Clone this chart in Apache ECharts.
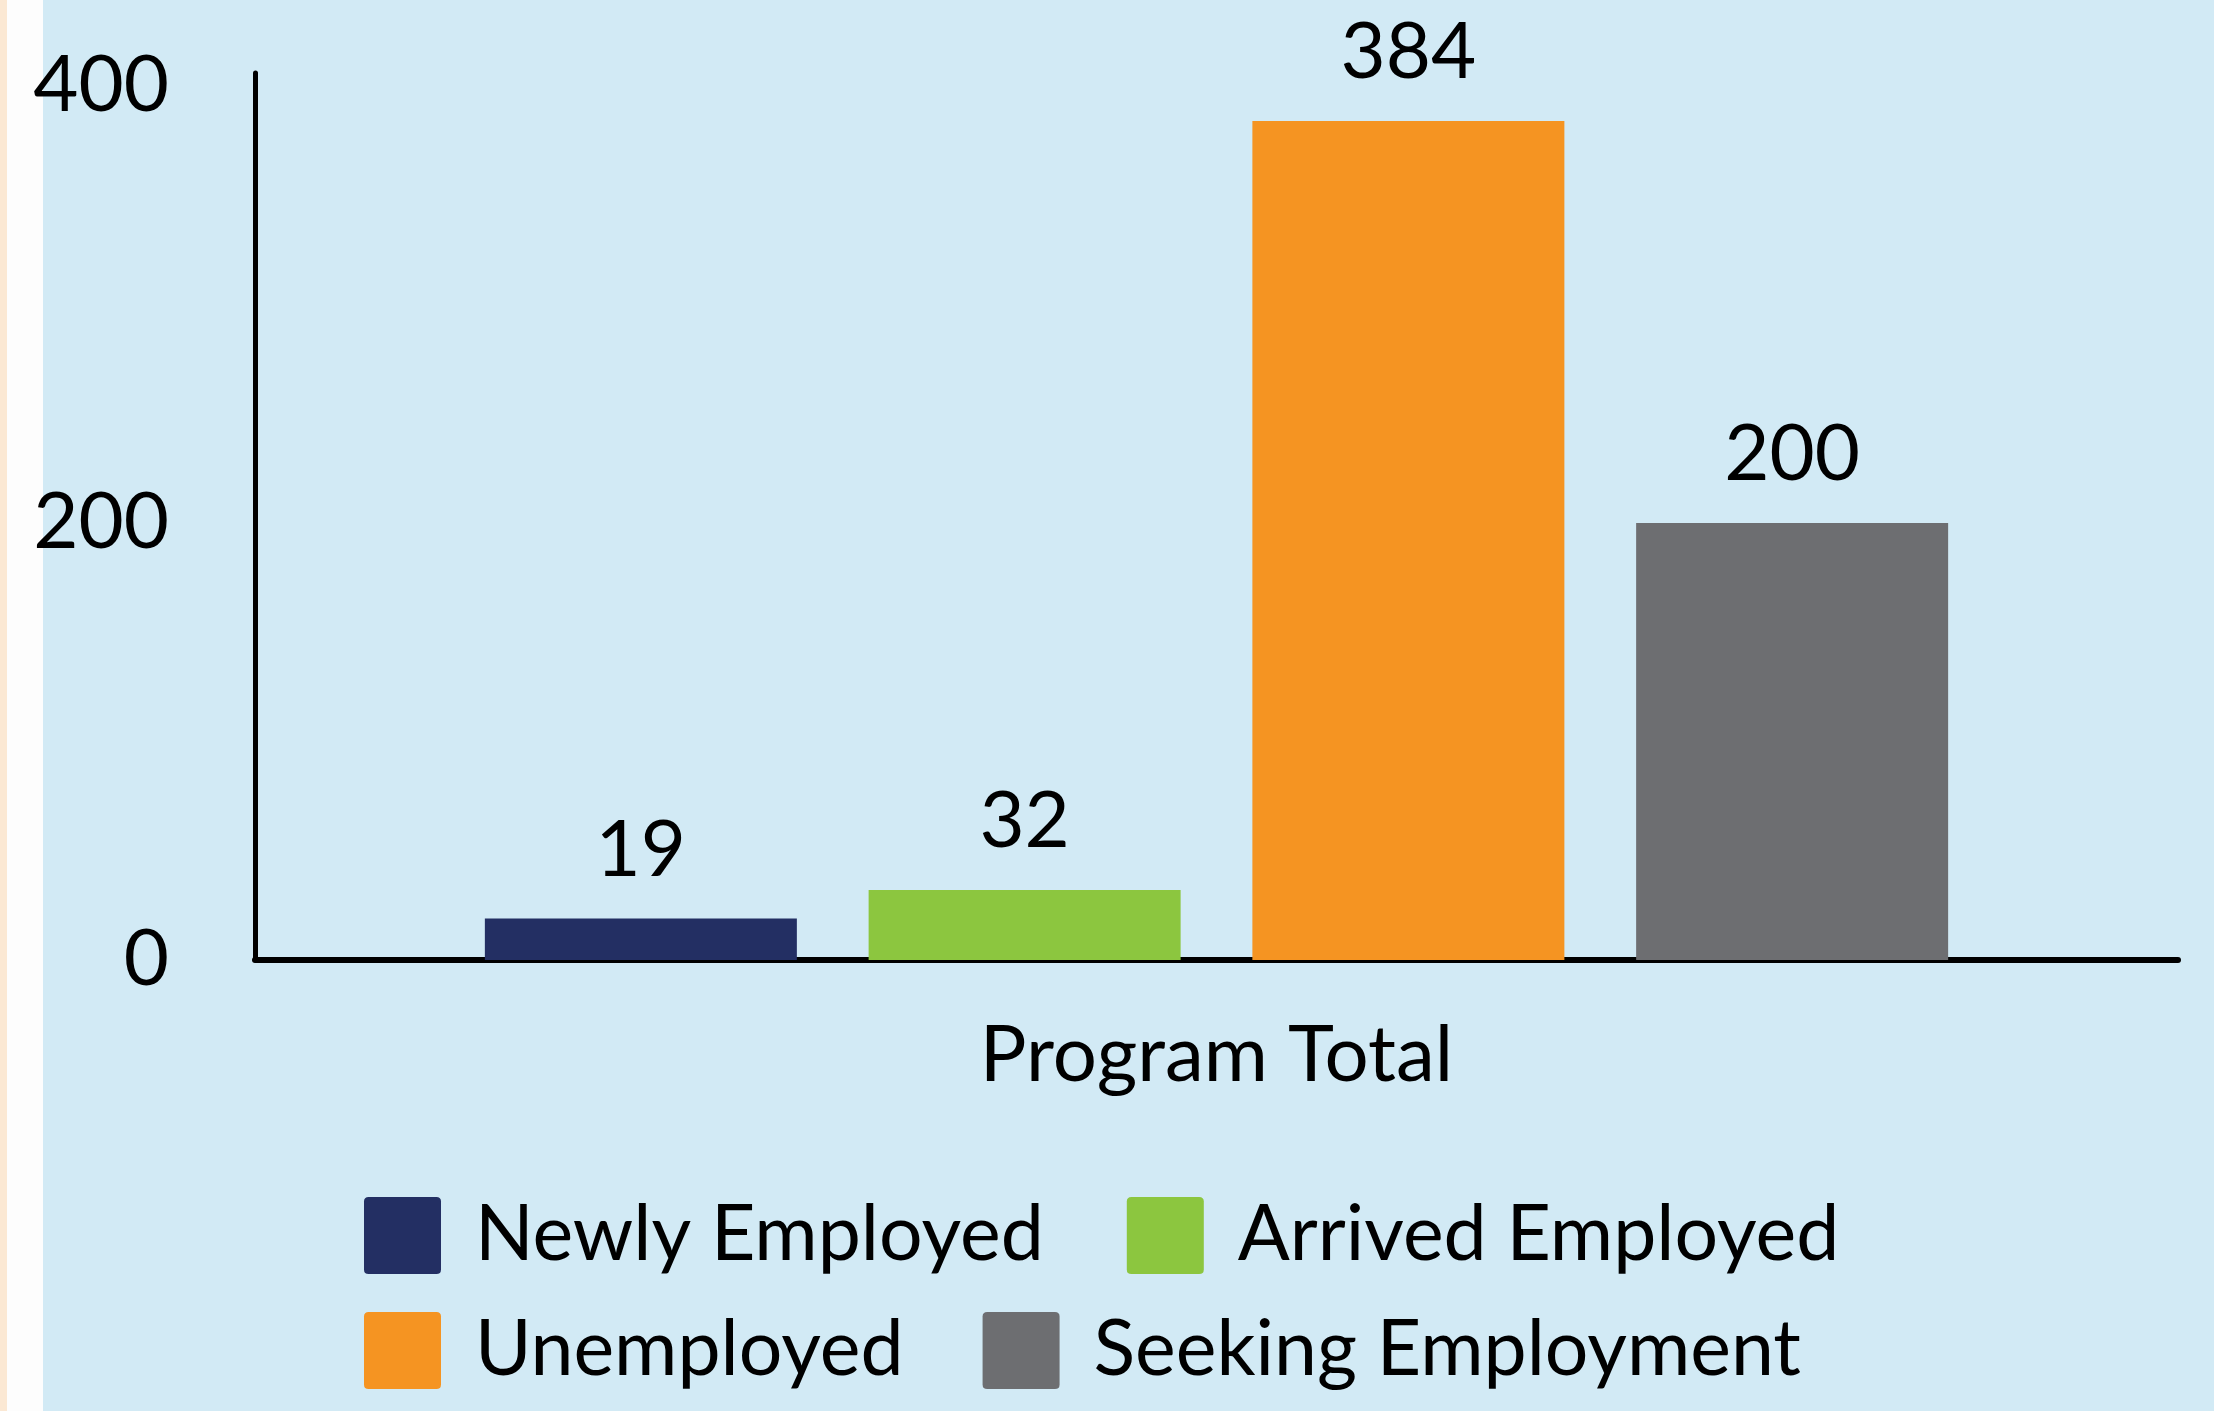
<!DOCTYPE html>
<html lang="en">
<head>
    <meta charset="UTF-8">
    <title>Program Total</title>
    <style>
        html, body { margin: 0; padding: 0; }
        #box { width: 2214px; height: 1411px; }
    </style>
    <script src="https://cdn.jsdelivr.net/npm/echarts@6/dist/echarts.min.js"></script>
</head>
<body>
    <div id="box"></div>
    <script>
        (function () {
            // data
            let categories = ['Program Total'];
            let seriesNames = ['Newly Employed', 'Arrived Employed', 'Unemployed', 'Seeking Employment'];
            let newlyEmployed = [19];
            let arrivedEmployed = [32];
            let unemployed = [384];
            let seekingEmployment = [200];
            let colors = ['#232f63', '#8cc63f', '#f59422', '#6d6e71'];

            let values = [newlyEmployed, arrivedEmployed, unemployed, seekingEmployment];
            let font = 'Lato';
            let iconPath = 'path://M6,0H94Q100,0 100,6V94Q100,100 94,100H6Q0,100 0,94V6Q0,0 6,0Z';

            let series = seriesNames.map(function (name, i) {
                return {
                    name: name,
                    type: 'bar',
                    data: values[i],
                    barWidth: 312,
                    barGap: '23%',
                    itemStyle: { color: colors[i] },
                    label: {
                        show: true,
                        position: 'top',
                        distance: 29,
                        color: '#000',
                        fontFamily: font,
                        fontSize: 78
                    }
                };
            });

            let legendCommon = {
                left: 359,
                itemWidth: 77,
                itemHeight: 77,
                icon: iconPath,
                textStyle: {
                    color: '#000',
                    fontFamily: font,
                    fontSize: 77,
                    padding: [10, 0, 0, 29]
                }
            };

            let option = {
                backgroundColor: '#d2eaf5',
                animation: false,
                grid: { left: 255, right: 36, top: 73, bottom: 451 },
                xAxis: {
                    type: 'category',
                    data: categories,
                    axisLine: { lineStyle: { color: '#000', width: 6 } },
                    axisTick: { show: false },
                    axisLabel: {
                        color: '#000',
                        fontFamily: font,
                        fontSize: 78,
                        margin: 57
                    }
                },
                yAxis: {
                    type: 'value',
                    min: 0,
                    max: 406,
                    interval: 200,
                    splitLine: { show: false },
                    axisLine: { show: true, lineStyle: { color: '#000', width: 5 } },
                    axisTick: { show: false },
                    axisLabel: {
                        showMaxLabel: false,
                        color: '#000',
                        fontFamily: font,
                        fontSize: 78,
                        margin: 86
                    }
                },
                legend: [
                    Object.assign({}, legendCommon, {
                        top: 1192,
                        itemGap: 83,
                        data: [seriesNames[0], seriesNames[1]]
                    }),
                    Object.assign({}, legendCommon, {
                        top: 1307,
                        itemGap: 79,
                        data: [seriesNames[2], seriesNames[3]]
                    })
                ],
                graphic: [
                    { type: 'rect', z: -10, shape: { x: 0, y: 0, width: 7, height: 1411 }, style: { fill: '#fbe8d3' } },
                    { type: 'rect', z: -10, shape: { x: 7, y: 0, width: 36, height: 1411 }, style: { fill: '#fdfdfd' } }
                ],
                series: series
            };

            let chart = echarts.init(box);
            chart.setOption(option);
        })();
    </script>
</body>
</html>
